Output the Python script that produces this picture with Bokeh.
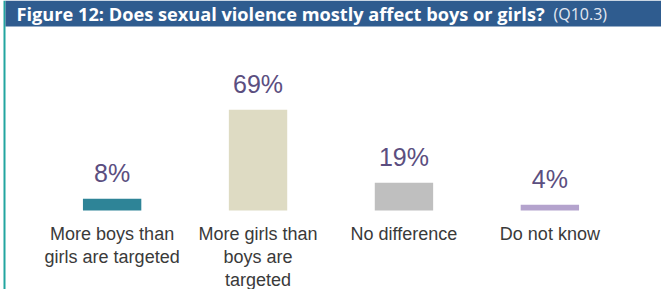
from bokeh.plotting import figure
from bokeh.models import FactorRange, Range1d, ColumnDataSource
from bokeh.core.properties import value
from bokeh.embed import file_html
from bokeh.resources import INLINE

# ---- data ----
categories = ["More boys than\ngirls are targeted", "More girls than\nboys are\ntargeted",
              "No difference", "Do not know"]
values = [8, 69, 19, 4]
value_labels = ["8%", "69%", "19%", "4%"]
colors = ["#2E8497", "#DEDBC3", "#BFBFBF", "#B4A3CD"]
title_main = "Figure 12: Does sexual violence mostly affect boys or girls?"
title_sub = "(Q10.3)"

# ---- layout ----
W, H = 661, 289
PAD = 0.265            # factor-range padding (units)
PX_PER_PCT = 1.46
BASE_PX = 210          # baseline, px from top of figure
y_end = BASE_PX / PX_PER_PCT
y_start = -(H - BASE_PX) / PX_PER_PCT
XU = (len(categories) + 2 * PAD) / W


def xd(px):
    return -PAD + px * XU


def yd(px):
    return y_end - px / PX_PER_PCT


p = figure(width=W, height=H, x_range=FactorRange(*categories, range_padding=PAD,
                                                   range_padding_units="absolute"),
           y_range=Range1d(y_start, y_end), output_backend="svg", toolbar_location=None,
           min_border=0, outline_line_color=None, background_fill_color="white",
           border_fill_color="white")
p.axis.visible = False
p.grid.visible = False

# frame decoration: left teal line and title band
p.quad(left=[xd(3)], right=[xd(5)], top=[y_end], bottom=[y_start], color="#22A5A0",
       line_color=None)
p.quad(left=[xd(5)], right=[xd(W + 2)], top=[y_end], bottom=[yd(26)], color="#2F5C8F",
       line_color=None)
p.text(x=[xd(16)], y=[yd(13)], text=[title_main], text_font=value("Open Sans"),
       text_font_style="bold", text_font_size="18.2px", text_color="white",
       text_baseline="middle", text_align="left")
p.text(x=[xd(553)], y=[yd(13)], text=[title_sub], text_font=value("Open Sans"),
       text_font_size="16px", text_color="#E4E8F2",
       text_baseline="middle", text_align="left")

src = ColumnDataSource(dict(cat=categories, val=values, lab=value_labels, col=colors,
                            zero=[0] * len(values)))
p.vbar(x="cat", top="val", bottom=0, width=0.4, color="col", line_color=None, source=src)
p.text(x="cat", y="val", text="lab", source=src, text_font=value("Liberation Sans"),
       text_font_size="25px", text_color="#5B4E80", text_align="center",
       text_baseline="bottom", y_offset=-12)
p.text(x="cat", y="zero", text="cat", source=src, text_font=value("Liberation Sans"),
       text_font_size="18px", text_color="#3A3A3A", text_align="center",
       text_baseline="top", y_offset=13, text_line_height=1.15)

open("out.html", "w").write(file_html(p, INLINE))
